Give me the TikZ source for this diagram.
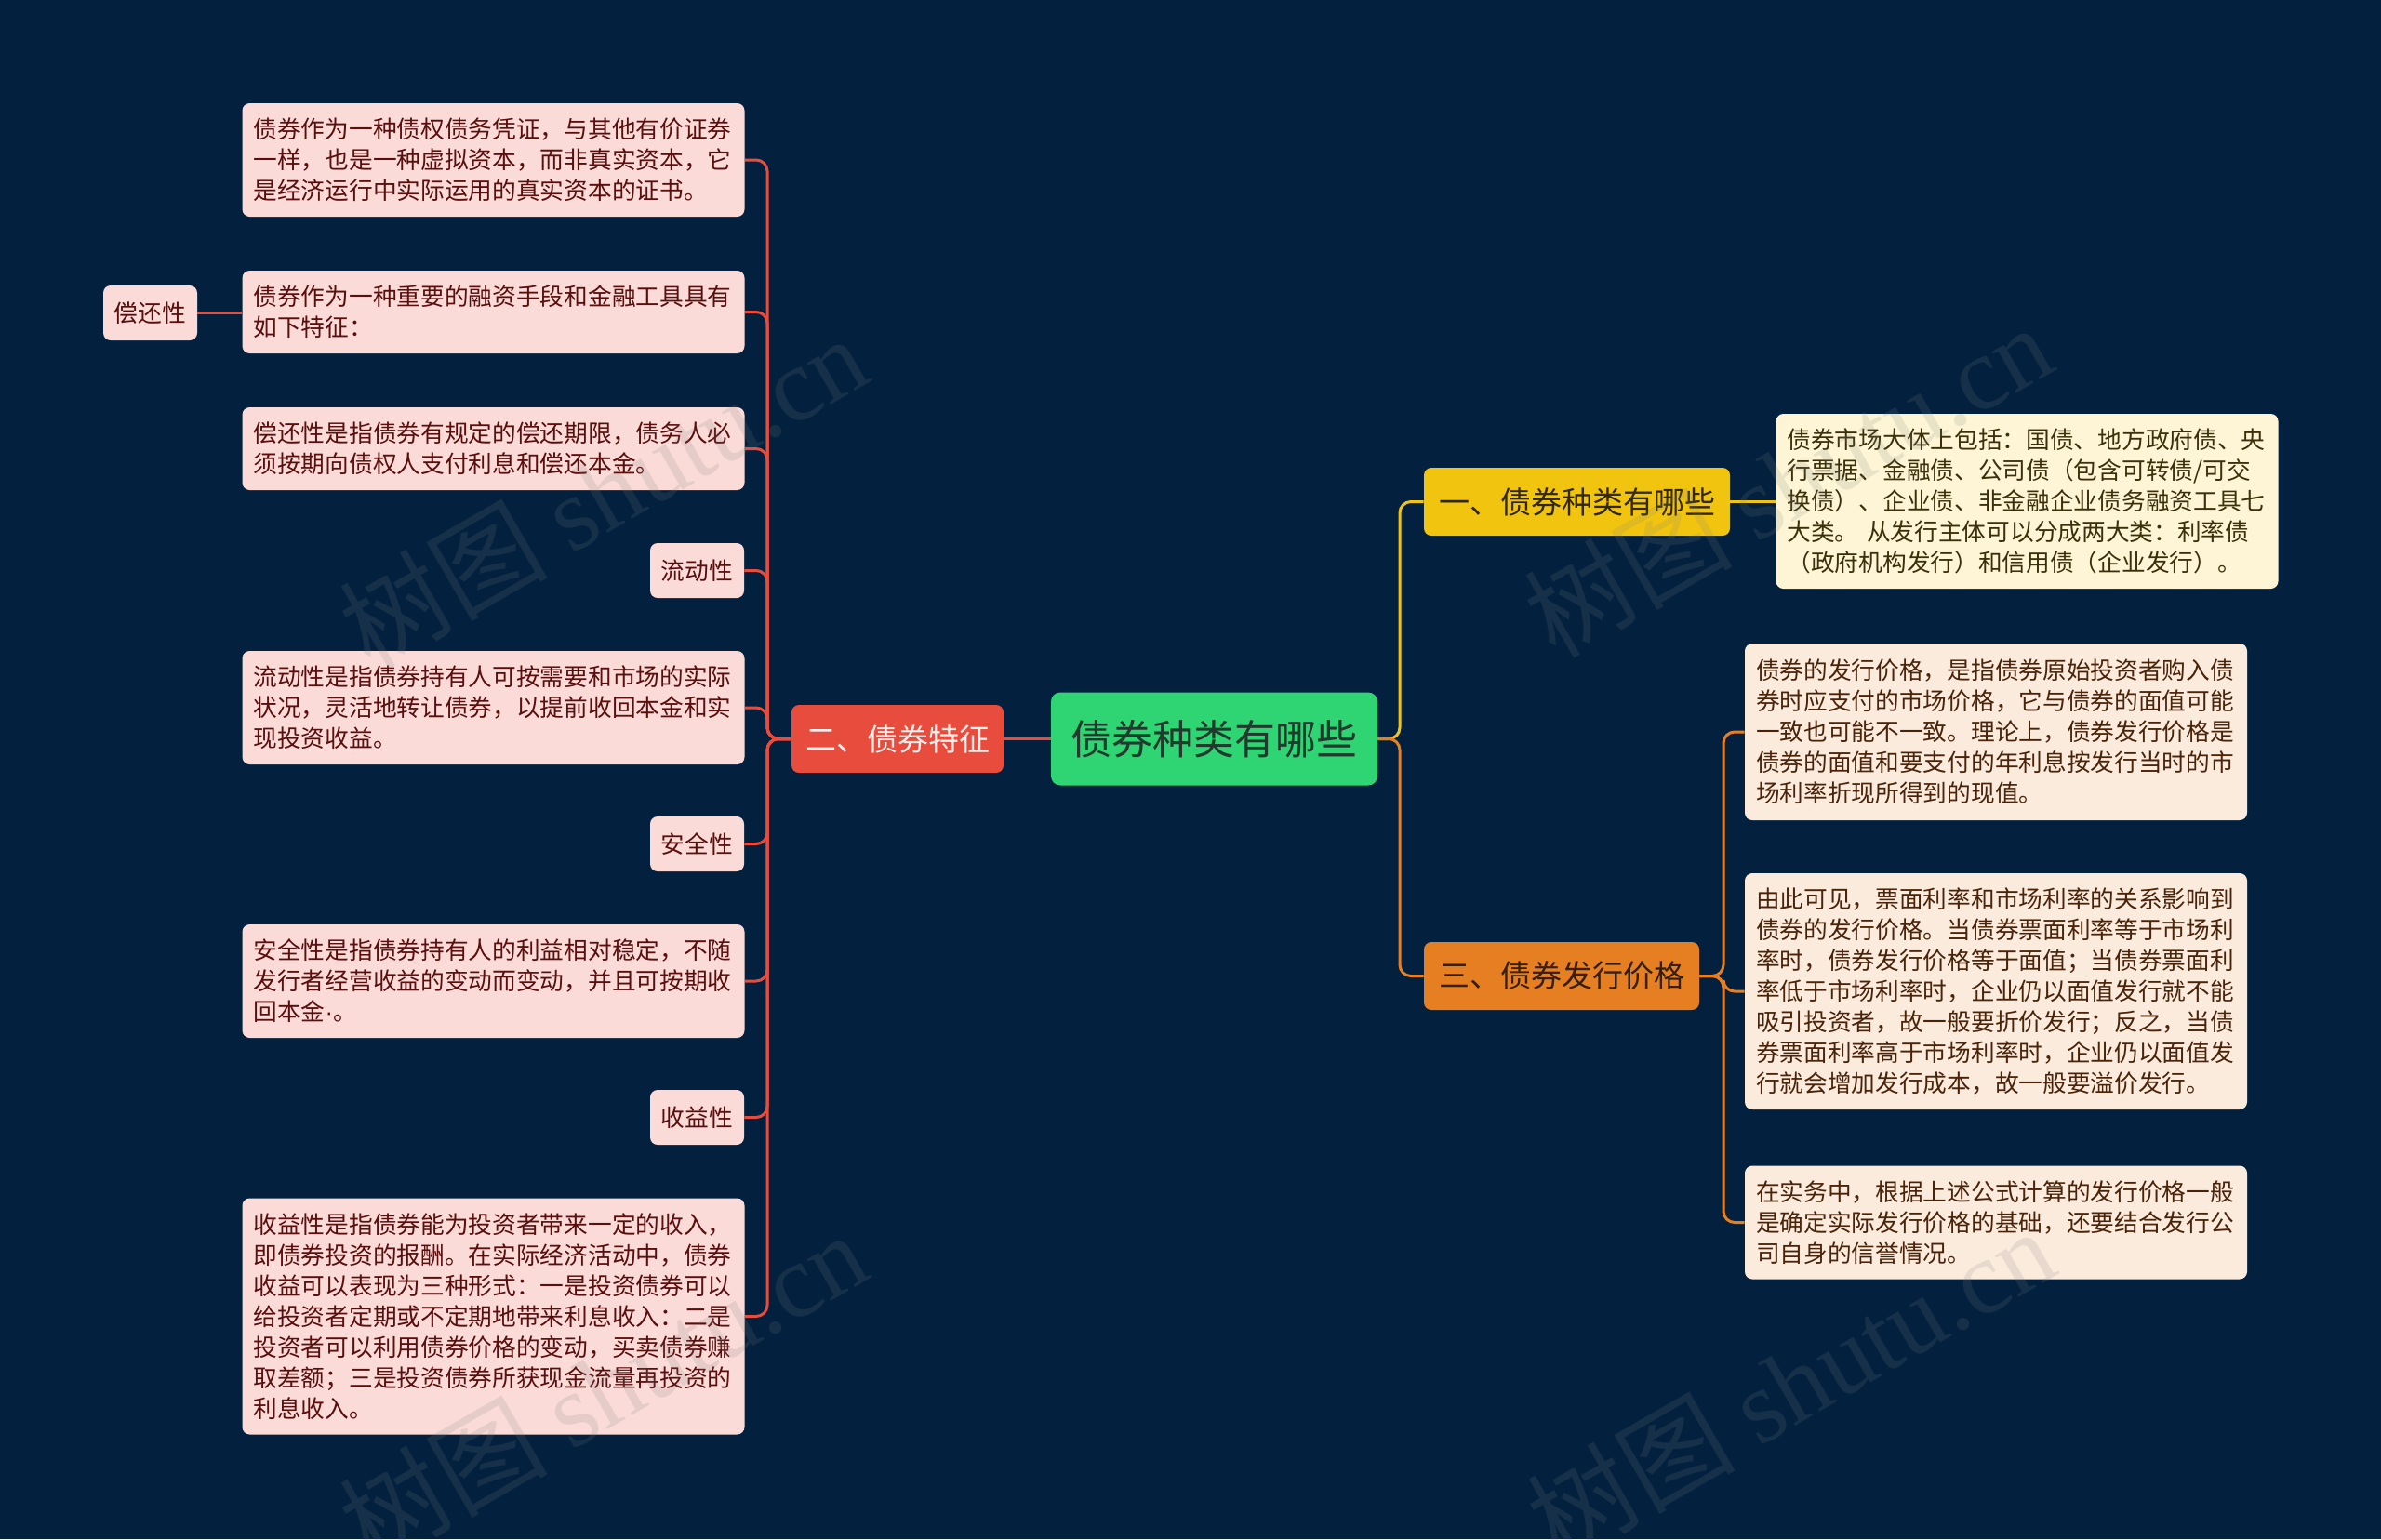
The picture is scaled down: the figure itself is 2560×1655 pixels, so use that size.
\documentclass[tikz,border=0pt]{standalone}
\usepackage{fontspec}
\setmainfont{Noto Sans CJK SC}
\newfontfamily\wmlatin{Liberation Serif}
\newfontfamily\latinsans{Liberation Sans}
\usetikzlibrary{calc}
\definecolor{bgc}{RGB}{3,33,63}
\definecolor{greenc}{RGB}{47,213,115}
\definecolor{greentext}{RGB}{33,58,45}
\definecolor{redc}{RGB}{231,76,60}
\definecolor{redtext}{RGB}{253,237,236}
\definecolor{yellowc}{RGB}{241,196,15}
\definecolor{yellowtext}{RGB}{50,40,5}
\definecolor{orangec}{RGB}{230,126,34}
\definecolor{orangetext}{RGB}{55,30,8}
\definecolor{pinkc}{RGB}{250,219,216}
\definecolor{pinktext}{RGB}{90,14,14}
\definecolor{creamc}{RGB}{253,245,213}
\definecolor{creamtext}{RGB}{60,48,10}
\definecolor{peachc}{RGB}{251,235,221}
\definecolor{peachtext}{RGB}{74,36,10}
\begin{document}
\begin{tikzpicture}[x=0.5pt,y=-0.5pt,
  box/.style={rounded corners=4pt, align=left, inner xsep=6pt, inner ysep=0pt,
    text width=258pt, font=\fontsize{12.85pt}{16.5pt}\selectfont},
  pleaf/.style={box, fill=pinkc, text=pinktext},
  cleaf/.style={box, fill=creamc, text=creamtext},
  oleaf/.style={box, fill=peachc, text=peachtext},
  tagbox/.style={rounded corners=4pt, fill=pinkc, text=pinktext, align=center,
    inner sep=0pt, minimum width=50.5pt, minimum height=29.5pt,
    font=\fontsize{12.85pt}{16.5pt}\selectfont},
  branch/.style={rounded corners=4pt, inner sep=0pt, minimum height=36.5pt,
    font=\fontsize{16.5pt}{20pt}\selectfont},
  rootbox/.style={rounded corners=5pt, inner sep=0pt, fill=greenc, text=greentext,
    minimum width=175.5pt, minimum height=50pt, font=\fontsize{22pt}{26pt}\selectfont},
  redline/.style={draw=redc, line width=1.5pt, rounded corners=6pt},
  yline/.style={draw=yellowc, line width=1.5pt, rounded corners=6pt},
  oline/.style={draw=orangec, line width=1.5pt, rounded corners=6pt},
  wm/.style={text=gray, opacity=0.16, font=\fontsize{56pt}{56pt}\selectfont, inner sep=0pt}
]
\fill[bgc] (0,0) rectangle (2560,1655);
\useasboundingbox (0,0) rectangle (2560,1655);

% root and branches
\node[rootbox] (root) at (1305.5,794.5) {债券种类有哪些};
\node[branch, fill=redc, text=redtext, minimum width=114pt] (b2) at (965,794.5) {二、债券特征};
\node[branch, fill=yellowc, text=yellowtext, minimum width=164.5pt] (b1) at (1695.5,539.5) {一、债券种类有哪些};
\node[branch, fill=orangec, text=orangetext, minimum width=148pt] (b3) at (1679,1049.5) {三、债券发行价格};

% left leaves
\node[pleaf, minimum height=61pt] (l1) at (530.5,172) {债券作为一种债权债务凭证，与其他有价证券\\一样，也是一种虚拟资本，而非真实资本，它\\是经济运行中实际运用的真实资本的证书。};
\node[pleaf, minimum height=44.5pt] (l2) at (530.5,335.5) {债券作为一种重要的融资手段和金融工具具有\\如下特征：};
\node[tagbox] (t0) at (161.5,336.5) {偿还性};
\node[pleaf, minimum height=44.5pt] (l4) at (530.5,482.5) {偿还性是指债券有规定的偿还期限，债务人必\\须按期向债权人支付利息和偿还本金。};
\node[tagbox] (t1) at (749.5,613.5) {流动性};
\node[pleaf, minimum height=61pt] (l6) at (530.5,761) {流动性是指债券持有人可按需要和市场的实际\\状况，灵活地转让债券，以提前收回本金和实\\现投资收益。};
\node[tagbox] (t2) at (749.5,907.5) {安全性};
\node[pleaf, minimum height=61pt] (l8) at (530.5,1055) {安全性是指债券持有人的利益相对稳定，不随\\发行者经营收益的变动而变动，并且可按期收\\回本金{\latinsans ·}。};
\node[tagbox] (t3) at (749.5,1201.5) {收益性};
\node[pleaf, minimum height=127pt] (l10) at (530.5,1415.5) {收益性是指债券能为投资者带来一定的收入，\\即债券投资的报酬。在实际经济活动中，债券\\收益可以表现为三种形式：一是投资债券可以\\给投资者定期或不定期地带来利息收入：二是\\投资者可以利用债券价格的变动，买卖债券赚\\取差额；三是投资债券所获现金流量再投资的\\利息收入。};

% right leaves
\node[cleaf, minimum height=94pt] (y1) at (2179.5,539) {债券市场大体上包括：国债、地方政府债、央\\行票据、金融债、公司债（包含可转债/可交\\换债）、企业债、非金融企业债务融资工具七\\大类。 从发行主体可以分成两大类：利率债\\（政府机构发行）和信用债（企业发行）。};
\node[oleaf, minimum height=95pt] (o1) at (2146,787) {债券的发行价格，是指债券原始投资者购入债\\券时应支付的市场价格，它与债券的面值可能\\一致也可能不一致。理论上，债券发行价格是\\债券的面值和要支付的年利息按发行当时的市\\场利率折现所得到的现值。};
\node[oleaf, minimum height=127pt] (o2) at (2146,1066) {由此可见，票面利率和市场利率的关系影响到\\债券的发行价格。当债券票面利率等于市场利\\率时，债券发行价格等于面值；当债券票面利\\率低于市场利率时，企业仍以面值发行就不能\\吸引投资者，故一般要折价发行；反之，当债\\券票面利率高于市场利率时，企业仍以面值发\\行就会增加发行成本，故一般要溢价发行。};
\node[oleaf, minimum height=61pt] (o3) at (2146,1314.5) {在实务中，根据上述公式计算的发行价格一般\\是确定实际发行价格的基础，还要结合发行公\\司自身的信誉情况。};

% trunk coordinates
\coordinate (tl) at (825,0);
\coordinate (tr) at (1505,0);
\coordinate (to) at (1853,0);

% left connectors
\draw[redline] (root.west) -- (b2.east);
\foreach \n in {l1,l2,l4,t1,l6,t2,l8,t3,l10}{
  \draw[redline] (b2.west) -- (tl |- b2.west) -- (tl |- \n.east) -- (\n.east);
}
\draw[redline] (t0.east) -- (t0.east -| l2.west);

% right connectors
\draw[yline] (root.east) -- (tr |- root.east) -- (tr |- b1.west) -- (b1.west);
\draw[oline] (root.east) -- (tr |- root.east) -- (tr |- b3.west) -- (b3.west);
\draw[yline] (b1.east) -- (b1.east -| y1.west);
\foreach \n in {o1,o2,o3}{
  \draw[oline] (b3.east) -- (to |- b3.east) -- (to |- \n.west) -- (\n.west);
}

% watermarks
\node[wm, rotate=30] (w1) at (648,528) {树图 {\wmlatin shutu.cn}};
\node[wm, rotate=30] (w2) at (1922,516) {树图 {\wmlatin shutu.cn}};
\node[wm, rotate=30] (w3) at (648,1492) {树图 {\wmlatin shutu.cn}};
\node[wm, rotate=30] (w4) at (1925,1488) {树图 {\wmlatin shutu.cn}};
\end{tikzpicture}
\end{document}
